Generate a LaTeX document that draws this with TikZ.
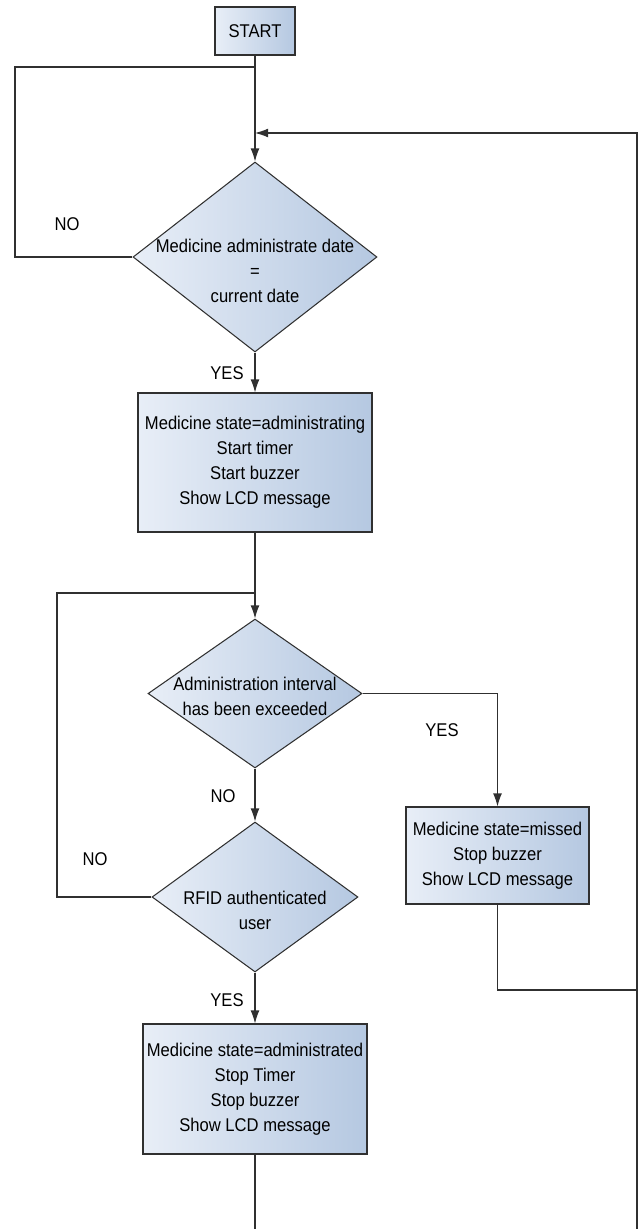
\documentclass[tikz,border=0pt]{standalone}
\usepackage{fontspec}
\setmainfont{Liberation Sans}[FakeStretch=0.9]
\usetikzlibrary{arrows.meta,shapes.geometric}
\definecolor{shadeleft}{HTML}{E8EEF7}
\definecolor{shaderight}{HTML}{B5C8E1}
\definecolor{edgegray}{HTML}{303030}

\begin{document}
\begin{tikzpicture}[x=0.02cm,y=-0.02cm,>={Latex[length=7.4pt,width=5pt]},
  font=\fontsize{10.5}{14.2}\selectfont,
  flow/.style={draw=edgegray,line width=0.6pt},
  procbox/.style={rectangle,flow,left color=shadeleft,right color=shaderight,align=center,inner sep=0pt},
  decision/.style={diamond,flow,left color=shadeleft,right color=shaderight,inner sep=0pt},
  txt/.style={align=center,inner sep=0pt}]
\useasboundingbox (0,0) rectangle (638,1229);

% boxes and decisions
\node[procbox,minimum width=1.6cm,minimum height=0.96cm] (start) at (255,31) {START};
\node[decision,minimum width=4.88cm,minimum height=3.8cm] (adm) at (255,257) {};
\node[txt] (admtext) at (255,271) {Medicine administrate date\\=\\current date};
\node[procbox,minimum width=4.68cm,minimum height=2.78cm] (admg) at (255,462.5)
  {Medicine state=administrating\\Start timer\\Start buzzer\\Show LCD message};
\node[decision,minimum width=4.28cm,minimum height=2.98cm] (intv) at (255,693.5) {};
\node[txt] (intvtext) at (255,696) {Administration interval\\has been exceeded};
\node[procbox,minimum width=3.66cm,minimum height=1.94cm] (missed) at (497.5,855.5)
  {Medicine state=missed\\Stop buzzer\\Show LCD message};
\node[decision,minimum width=4.12cm,minimum height=3.0cm] (rfid) at (255,897) {};
\node[txt] (rfidtext) at (255,910) {RFID authenticated\\user};
\node[procbox,minimum width=4.48cm,minimum height=2.6cm] (admd) at (255,1089)
  {Medicine state=administrated\\Stop Timer\\Stop buzzer\\Show LCD message};

% joints
\coordinate (nojoin) at (255,67);
\coordinate (noleft) at (15,67);
\coordinate (backjoin) at (255,133);
\coordinate (backtop) at (637,133);
\coordinate (backbot) at (637,1229);
\coordinate (loopjoin) at (255,593);
\coordinate (loopleft) at (57,593);
\coordinate (missjoin) at (637,990);
\coordinate (endpt) at (255,1229);

% connectors
\draw[flow] (start) -- (nojoin);
\draw[flow,->] (nojoin) -- (adm);
\draw[flow] (adm.west) -| (noleft) -- (nojoin);
\draw[flow,->] (backbot) -- (backtop) -- (backjoin);
\draw[flow,->] (adm) -- (admg);
\draw[flow] (admg) -- (loopjoin);
\draw[flow,->] (loopjoin) -- (intv);
\draw[flow] (rfid.west) -| (loopleft) -- (loopjoin);
\draw[flow,->] (intv.east) -| (missed.north);
\draw[flow,->] (intv) -- (rfid);
\draw[flow,->] (rfid) -- (admd);
\draw[flow] (admd) -- (endpt);
\draw[flow] (missed) |- (missjoin);

% labels
\node (no1) at (67,224) {NO};
\node (yes1) at (227,373) {YES};
\node (yes2) at (442,730) {YES};
\node (no2) at (223,796) {NO};
\node (no3) at (95,859) {NO};
\node (yes3) at (227,1000) {YES};
\end{tikzpicture}
\end{document}
